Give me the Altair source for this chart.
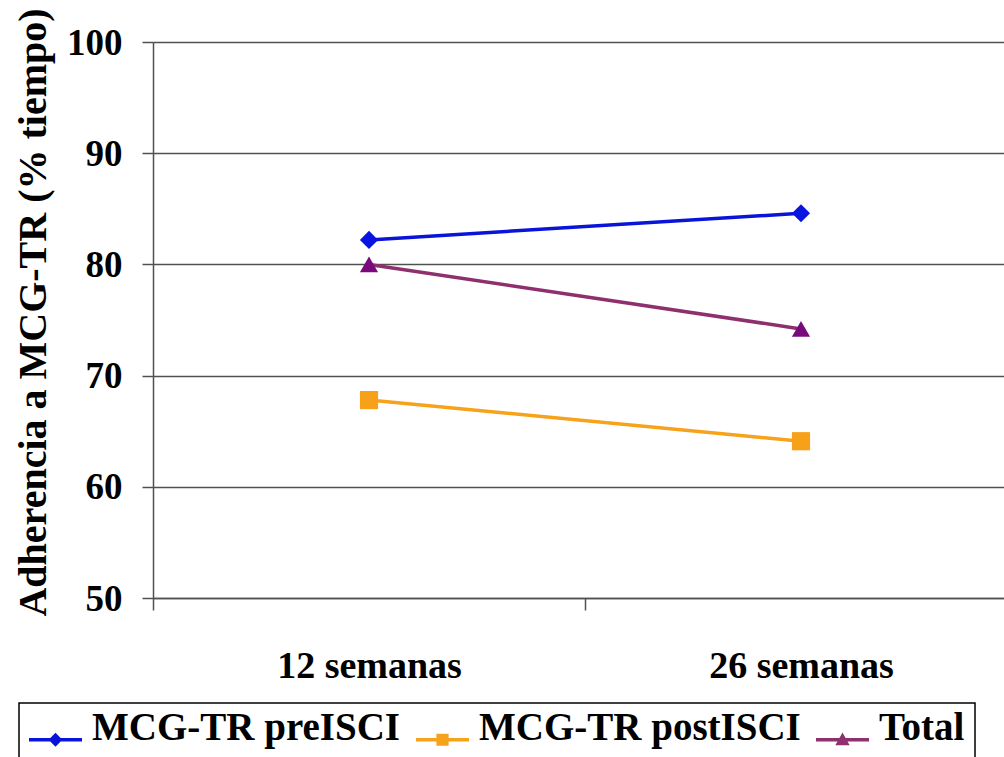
import altair as alt
import pandas as pd

semanas = ["12 semanas", "26 semanas"]
series = ["MCG-TR preISCI", "MCG-TR postISCI", "Total"]
pre_isci = [82.2, 84.6]
post_isci = [67.8, 64.1]
total = [80.0, 74.2]

line_colors = ["#0A14D8", "#F7A21B", "#8E2F6E"]
marker_colors = ["#0A14E0", "#F7A01A", "#7A0A7C"]
marker_shapes = ["diamond", "square", "triangle-up"]

# legend symbols: line segment + marker (unit box -1..1)
seg = "M-1,-0.07L1,-0.07L1,0.07L-1,0.07Z"
legend_shapes = [
    seg + "M0,-0.26L0.26,0L0,0.26L-0.26,0Z",
    seg + "M-0.23,-0.23L0.23,-0.23L0.23,0.23L-0.23,0.23Z",
    seg + "M0,-0.27L0.27,0.21L-0.27,0.21Z",
]

rows = []
for s, vals in zip(series, [pre_isci, post_isci, total]):
    for w, v in zip(semanas, vals):
        rows.append({"semana": w, "serie": s, "valor": v})
df = pd.DataFrame(rows)

FONT = "Liberation Serif, Times New Roman, Times, Nimbus Roman, serif"

x_enc = alt.X(
    "semana:N",
    sort=semanas,
    scale=alt.Scale(type="band", domain=semanas, range=[0, 864], paddingInner=0, paddingOuter=0),
    axis=alt.Axis(
        title=None,
        labelAngle=0,
        labelFont=FONT,
        labelFontSize=38,
        labelFontWeight="bold",
        labelColor="black",
        labelPadding=37,
        labelLimit=500,
        tickBand="extent",
        tickSize=12,
        tickColor="#505050",
        tickWidth=1.5,
        domainColor="#505050",
        domainWidth=1.5,
        grid=False,
    ),
)
y_enc = alt.Y(
    "valor:Q",
    scale=alt.Scale(domain=[50, 100], nice=False, zero=False),
    axis=alt.Axis(
        title="Adherencia a MCG-TR (% tiempo)",
        titleFont=FONT,
        titleFontSize=40,
        titleFontWeight="bold",
        titleColor="black",
        titleX=-108,
        titleY=270,
        titleBaseline="alphabetic",
        titleLimit=800,
        values=[50, 60, 70, 80, 90, 100],
        labelFont=FONT,
        labelFontSize=37,
        labelFontWeight="bold",
        labelColor="black",
        labelPadding=20,
        labelOffset=1,
        tickSize=11,
        tickColor="#505050",
        tickWidth=1.5,
        domainColor="#505050",
        domainWidth=1.5,
        grid=True,
        gridColor="#505050",
        gridWidth=1.5,
    ),
)

base = alt.Chart(df)

lines = base.mark_line(strokeWidth=3.5).encode(
    x=x_enc,
    y=y_enc,
    stroke=alt.Stroke("serie:N", scale=alt.Scale(domain=series, range=line_colors), legend=None),
    detail="serie:N",
)

leg = alt.Legend(
    title=None,
    orient="none",
    legendX=-134,
    legendY=661,
    direction="horizontal",
    padding=10,
    strokeColor="black",
    fillColor="white",
    labelFont=FONT,
    labelFontSize=39,
    labelFontWeight="bold",
    labelColor="black",
    labelBaseline="alphabetic",
    labelOffset=10,
    columnPadding=15,
    symbolSize=2809,
    symbolStrokeWidth=0,
    symbolOpacity=1,
    labelLimit=1000,
)

# tiny marks hidden under the real markers; they only generate the legend
legend_layer = base.mark_point(filled=True, size=1).encode(
    x=x_enc,
    y=y_enc,
    color=alt.Color("serie:N", sort=series, scale=alt.Scale(domain=series, range=line_colors), legend=leg),
    shape=alt.Shape("serie:N", sort=series, scale=alt.Scale(domain=series, range=legend_shapes), legend=leg),
)

point_layers = []
for s, shp, col in zip(series, marker_shapes, marker_colors):
    point_layers.append(
        base.transform_filter(alt.datum.serie == s)
        .mark_point(filled=True, size=330, opacity=1, shape=shp, color=col)
        .encode(x=x_enc, y=y_enc)
    )

chart = (
    alt.layer(lines, legend_layer, *point_layers)
    .resolve_scale(color="independent", shape="independent")
    .resolve_legend(color="independent", shape="independent")
    .properties(
        width=851,
        height=556,
        autosize=alt.AutoSizeParams(type="none"),
        padding={"left": 153, "top": 42, "right": 0, "bottom": 159},
        background="white",
    )
    .configure_view(stroke=None)
    .configure_legend(strokeWidth=1.5)
)

chart.save("out.html", embed_options={"renderer": "svg", "actions": False})
